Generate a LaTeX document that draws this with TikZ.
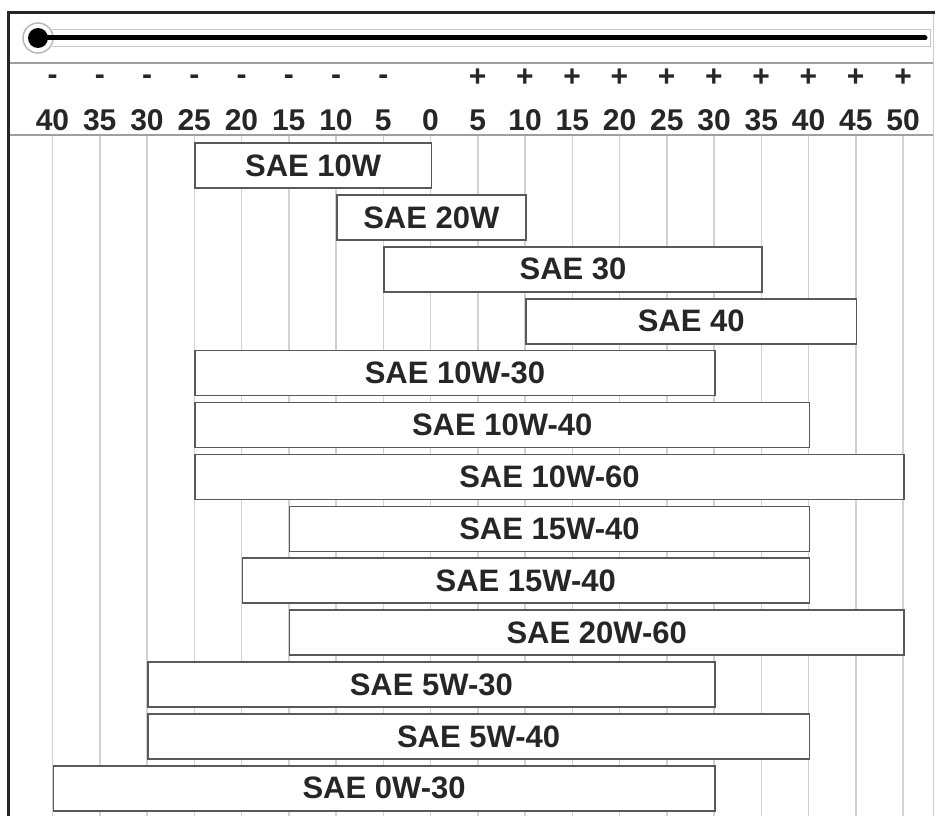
\documentclass[tikz,border=0pt]{standalone}
\usepackage{fontspec}
\setmainfont{Liberation Sans}
\begin{document}
\begin{tikzpicture}[x=1pt, y=-1pt,
  gridline/.style={draw=gray!35, line width=1.5pt},
  rule/.style={draw=gray!75, line width=1.3pt},
  oilbar/.style={draw=black!65, line width=1.6pt, fill=white, inner sep=0pt,
    minimum height=45pt, anchor=west, text=black!85,
    font=\fontsize{31}{31}\selectfont\bfseries},
  scalelabel/.style={text=black!85, inner sep=0pt,
    font=\fontsize{30}{30}\selectfont\bfseries}]
  \useasboundingbox (0,0) rectangle (940,816);
  % frame
  \draw[gray!40, line width=1pt] (933,13) -- (933,816);
  \draw[rule] (8,63) -- (933,63);
  \draw[rule] (8,135) -- (933,135);
  % thermometer
  \draw[gray!45, line width=1pt] (52,30) -- (930,30) -- (930,47) -- (52,47);
  \node[circle, fill=black, minimum size=20pt, inner sep=0pt] (bulb) at (38,38) {};
  \draw[gray!55, line width=1.5pt] (bulb.center) circle (15pt);
  \coordinate (tubeend) at (925,38);
  \draw[line width=5pt, line cap=round] (bulb.center) -- (tubeend);
  % scale
  \foreach \t [count=\k] in {-40,-35,...,50} {
    \pgfmathtruncatemacro\lbl{abs(\t)}
    \draw[gridline] ({430.5+9.45*\t}, 136) -- ({430.5+9.45*\t}, 816);
    \node[scalelabel] (num\k) at ({430.5+9.45*\t}, 120) {\lbl};
    \ifnum\t<0 \node[scalelabel] (sign\k) at ({430.5+9.45*\t}, 80) {-}; \fi
    \ifnum\t>0 \node[scalelabel] (sign\k) at ({430.5+9.45*\t}, 78) {+}; \fi
  }
  % oil grades
  \foreach \a/\b/\txt [count=\i from 0] in {-25/0/SAE 10W, -10/10/SAE 20W,
      -5/35/SAE 30, 10/45/SAE 40, -25/30/SAE 10W-30, -25/40/SAE 10W-40,
      -25/50/SAE 10W-60, -15/40/SAE 15W-40, -20/40/SAE 15W-40,
      -15/50/SAE 20W-60, -30/30/SAE 5W-30, -30/40/SAE 5W-40, -40/30/SAE 0W-30}
    \node[oilbar, minimum width={9.45pt*(\b-(\a))}] (bar\i)
      at ({430.5+9.45*\a}, {165.5+51.9*\i}) {\txt};
  \draw[black!85, line width=3pt] (8,816) -- (8,13) -- (935,13);
\end{tikzpicture}
\end{document}
